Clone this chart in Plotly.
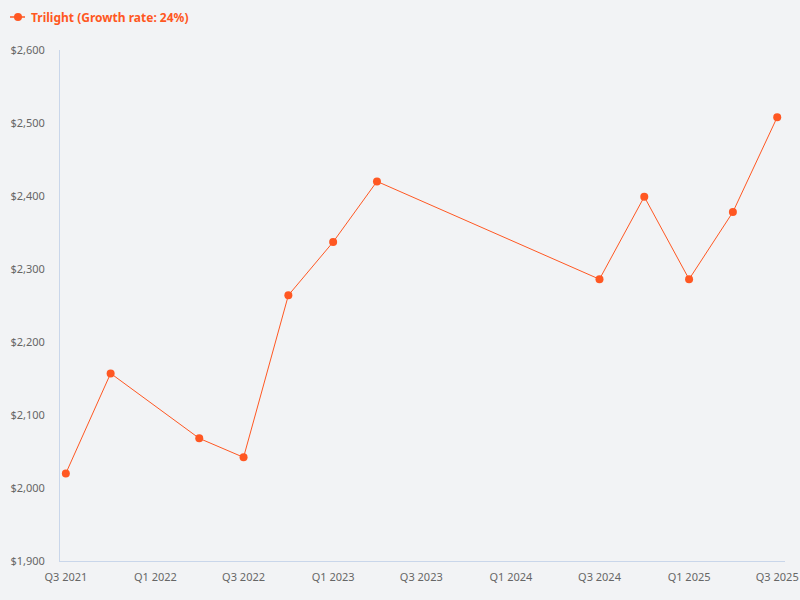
import plotly.graph_objects as go

quarters = ["2021-07-01", "2021-10-01", "2022-04-01", "2022-07-01", "2022-10-01",
            "2023-01-01", "2023-04-01", "2024-07-01", "2024-10-01", "2025-01-01",
            "2025-04-01", "2025-07-01"]
values = [2020, 2157, 2068, 2042, 2264, 2337, 2420, 2286, 2399, 2286, 2378, 2508]
tick_vals = ["2021-07-01", "2022-01-01", "2022-07-01", "2023-01-01", "2023-07-01",
             "2024-01-01", "2024-07-01", "2025-01-01", "2025-07-01"]
tick_text = ["Q3 2021", "Q1 2022", "Q3 2022", "Q1 2023", "Q3 2023",
             "Q1 2024", "Q3 2024", "Q1 2025", "Q3 2025"]
y_ticks = [1900, 2000, 2100, 2200, 2300, 2400, 2500, 2600]
series_name = "Trilight (Growth rate: 24%)"

color = "#ff5722"
bg = "#f2f3f5"

# plot area in pixels (for the hand-made legend)
L, R, T, B = 60, 15, 50, 39
PW, PH = 800 - L - R, 600 - T - B


def px(x):
    return (x - L) / PW


def py(y):
    return (600 - B - y) / PH


fig = go.Figure()
fig.add_trace(go.Scatter(
    x=quarters, y=values, mode="lines+markers", name=series_name,
    line=dict(color=color, width=1),
    marker=dict(color=color, size=8),
    showlegend=False,
))

# legend drawn by hand (short line + dot + bold label)
fig.add_shape(type="line", xref="paper", yref="paper",
              x0=px(10), x1=px(25), y0=py(17), y1=py(17),
              line=dict(color=color, width=1.5))
fig.add_shape(type="circle", xref="paper", yref="paper",
              x0=px(14), x1=px(22), y0=py(13), y1=py(21),
              fillcolor=color, line=dict(color=color, width=0))
fig.add_annotation(text=series_name, xref="paper", yref="paper",
                   x=px(29), y=py(17), xanchor="left", yanchor="middle",
                   showarrow=False,
                   font=dict(color=color, size=12, family="Noto Sans", weight="bold"))

fig.update_layout(
    width=800, height=600,
    paper_bgcolor=bg, plot_bgcolor=bg,
    font=dict(family="Noto Sans", color="#666666", size=11),
    margin=dict(l=L, r=R, t=T, b=B, autoexpand=False),
    showlegend=False,
    xaxis=dict(
        type="date",
        range=["2021-06-19", "2025-07-17"],
        tickvals=tick_vals, ticktext=tick_text,
        showgrid=False, zeroline=False,
        showline=True, linecolor="#c9d6ea", linewidth=1,
        ticks="", tickfont=dict(size=11, color="#666666"),
        ticklabelstandoff=6, automargin=False,
    ),
    yaxis=dict(
        range=[1900, 2600],
        tickvals=y_ticks, tickformat="$,d",
        showgrid=False, zeroline=False,
        showline=True, linecolor="#c9d6ea", linewidth=1,
        ticks="", tickfont=dict(size=11, color="#666666"),
        ticklabelstandoff=12, automargin=False,
    ),
)

fig.write_html(
    "out.html",
    config={"displayModeBar": False},
    post_script="document.body.style.margin='0';document.body.style.background='#f2f3f5';",
)
